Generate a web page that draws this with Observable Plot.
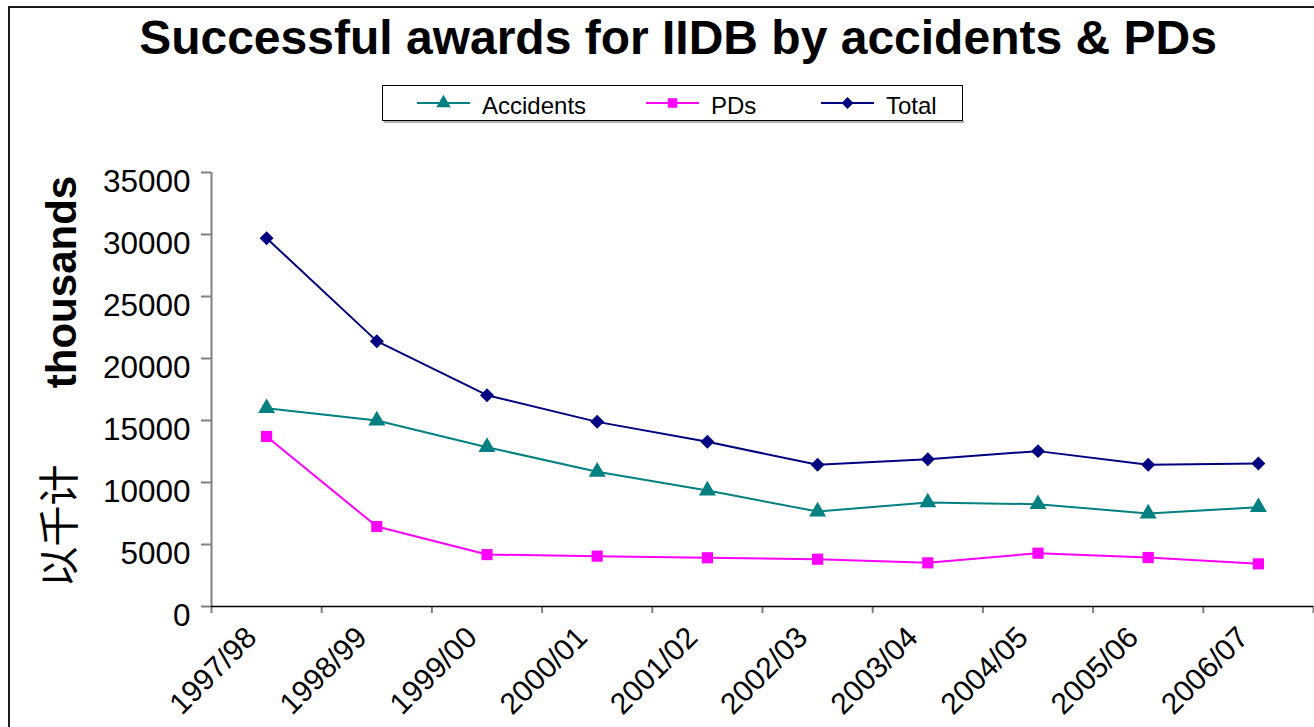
<!DOCTYPE html>
<html>
<head>
<meta charset="utf-8">
<script src="https://cdn.jsdelivr.net/npm/d3@7"></script>
<script src="https://cdn.jsdelivr.net/npm/@observablehq/plot@0.6"></script>
<style>
  html, body { margin: 0; padding: 0; background: #fff; }
  #page { position: relative; width: 1314px; height: 727px; overflow: hidden; font-family: "Liberation Sans", Arial, sans-serif; }
  #frame { position: absolute; left: 8px; top: 6px; width: 1320px; height: 740px; border-top: 2px solid #1a1a1a; border-left: 2px solid #1a1a1a; pointer-events: none; }
  svg { display: block; }
</style>
</head>
<body>
<div id="page">
  <div id="frame"></div>
  <div id="header"></div>
  <div id="chart"></div>
</div>
<script>
const titleText = "Successful awards for IIDB by accidents & PDs";
const categories = ["1997/98", "1998/99", "1999/00", "2000/01", "2001/02", "2002/03", "2003/04", "2004/05", "2005/06", "2006/07"];
const seriesNames = ["Accidents", "PDs", "Total"];
const seriesColors = ["#008080", "#FF00FF", "#000080"];
const seriesSymbols = ["triangle", "square", "diamond2"];
const accidents = [15990, 15000, 12850, 10860, 9350, 7660, 8390, 8250, 7500, 8010];
const pds = [13710, 6450, 4190, 4060, 3930, 3815, 3520, 4300, 3950, 3440];
const total = [29700, 21400, 17040, 14890, 13280, 11430, 11880, 12530, 11430, 11530];
const yTicks = [0, 5000, 10000, 15000, 20000, 25000, 30000, 35000];
const yLabel = "thousands";
const yLabelZh = "以千计";

const seriesValues = [accidents, pds, total];
const rows = [];
seriesNames.forEach((name, s) => {
  seriesValues[s].forEach((v, i) => rows.push({series: name, category: categories[i], x: i + 0.5, value: v}));
});

// Header: title + legend
const header = d3.select("#header").append("svg")
  .attr("width", 1314).attr("height", 140)
  .style("font-family", "'Liberation Sans', Arial, sans-serif");
header.append("text")
  .attr("x", 678).attr("y", 54)
  .attr("text-anchor", "middle")
  .attr("font-size", 48).attr("font-weight", "bold")
  .text(titleText);
header.append("line").attr("x1", 384).attr("x2", 964).attr("y1", 122).attr("y2", 122).attr("stroke", "#999").attr("stroke-width", 1.5);
header.append("rect").attr("x", 382.5).attr("y", 85.5).attr("width", 580).attr("height", 35)
  .attr("fill", "white").attr("stroke", "black").attr("stroke-width", 1);
const legendX = [417, 646, 821];
const symbolGen = {triangle: d3.symbolTriangle, square: d3.symbolSquare, diamond2: d3.symbolDiamond2};
seriesNames.forEach((name, s) => {
  const g = header.append("g").attr("transform", `translate(${legendX[s]},103)`);
  g.append("line").attr("x1", 0).attr("x2", 53).attr("stroke", seriesColors[s]).attr("stroke-width", 2);
  g.append("path").attr("transform", "translate(26.5,0)")
    .attr("d", d3.symbol(symbolGen[seriesSymbols[s]], 90)())
    .attr("fill", seriesColors[s]);
  g.append("text").attr("x", 65).attr("y", 11).attr("font-size", 24).text(name);
});

const chart = Plot.plot({
  width: 1314,
  height: 587,
  marginLeft: 211,
  marginRight: 1,
  marginTop: 32,
  marginBottom: 121,
  style: {fontFamily: "'Liberation Sans', Arial, sans-serif", background: "transparent", overflow: "visible", color: "black"},
  x: {domain: [0, categories.length], axis: null},
  y: {domain: [0, 35000], axis: null},
  color: {domain: seriesNames, range: seriesColors},
  symbol: {domain: seriesNames, range: seriesSymbols},
  marks: [
    Plot.ruleX([0], {stroke: "#808080", strokeWidth: 2}),
    Plot.axisY({ticks: yTicks, tickSize: 10, tickFormat: () => "", label: null, stroke: "#808080", strokeWidth: 2}),
    Plot.axisY({ticks: yTicks, tickSize: 0, tickPadding: 21, dy: 9, fontSize: 31.5, label: null, fill: "black", tickFormat: d3.format("d")}),
    Plot.axisX({ticks: d3.range(0, categories.length + 1), tickSize: 7, tickFormat: () => "", label: null, stroke: "#808080", strokeWidth: 2}),
    Plot.ruleY([0], {stroke: "black", strokeWidth: 1.5}),
    Plot.text(categories, {x: (d, i) => i + 0.5, frameAnchor: "bottom", text: d => d, rotate: -45, textAnchor: "end", lineAnchor: "middle", dx: -15, dy: 26, fontSize: 30, fill: "black"}),
    Plot.text([yLabel], {frameAnchor: "top-left", text: d => d, dx: -149, dy: 109.5, rotate: -90, textAnchor: "middle", lineAnchor: "middle", fontSize: 42, fontWeight: "bold", fill: "black"}),
    Plot.text([yLabelZh], {frameAnchor: "top-left", text: d => d, dx: -151, dy: 353.5, rotate: -90, textAnchor: "middle", lineAnchor: "middle", fontSize: 41, fontFamily: "'Noto Sans CJK SC'", fill: "black"}),
    Plot.line(rows, {x: "x", y: "value", z: "series", stroke: "series", strokeWidth: 2}),
    Plot.dot(rows, {x: "x", y: "value", fill: "series", symbol: "series", r: 6.3, stroke: "none"})
  ]
});
document.getElementById("chart").appendChild(chart);
</script>
</body>
</html>
